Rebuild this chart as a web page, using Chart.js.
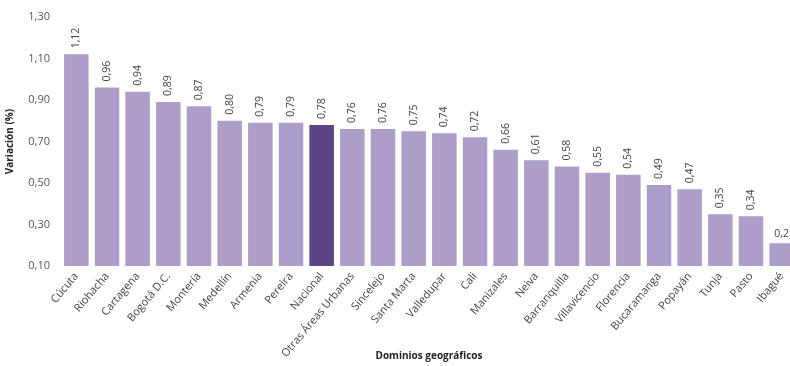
<!DOCTYPE html>
<html>
<head>
<meta charset="utf-8">
<script src="https://cdn.jsdelivr.net/npm/chart.js@4"></script>
<style>
  html, body { margin: 0; padding: 0; background: #fff; overflow: hidden; }
  .wrap { width: 800px; height: 366px; position: relative; }
</style>
</head>
<body>
<div class="wrap"><canvas id="chart"></canvas></div>
<script>
const dominios = ['Cúcuta', 'Riohacha', 'Cartagena', 'Bogotá D.C.', 'Montería', 'Medellín', 'Armenia', 'Pereira', 'Nacional', 'Otras Áreas Urbanas', 'Sincelejo', 'Santa Marta', 'Valledupar', 'Cali', 'Manizales', 'Neiva', 'Barranquilla', 'Villavicencio', 'Florencia', 'Bucaramanga', 'Popayán', 'Tunja', 'Pasto', 'Ibagué'];
const variacion = [1.12, 0.96, 0.94, 0.89, 0.87, 0.80, 0.79, 0.79, 0.78, 0.76, 0.76, 0.75, 0.74, 0.72, 0.66, 0.61, 0.58, 0.55, 0.54, 0.49, 0.47, 0.35, 0.34, 0.21];
const etiquetas = ['1,12', '0,96', '0,94', '0,89', '0,87', '0,80', '0,79', '0,79', '0,78', '0,76', '0,76', '0,75', '0,74', '0,72', '0,66', '0,61', '0,58', '0,55', '0,54', '0,49', '0,47', '0,35', '0,34', '0,2'];
const yTicks = [0.10, 0.30, 0.50, 0.70, 0.90, 1.10, 1.30];

const colorBase = '#ad9ec9';
const colorNacional = '#5b4282';

// value labels above each bar, rotated; the last one is horizontal in the original
const valueLabels = {
  id: 'valueLabels',
  afterDatasetsDraw(chart) {
    const ctx = chart.ctx;
    const meta = chart.getDatasetMeta(0);
    ctx.save();
    ctx.font = '10.5px "Open Sans", sans-serif';
    ctx.fillStyle = '#444';
    meta.data.forEach((bar, i) => {
      const txt = etiquetas[i];
      if (i === meta.data.length - 1) {
        ctx.textAlign = 'center';
        ctx.textBaseline = 'bottom';
        ctx.fillText(txt, bar.x, bar.y - 4);
        return;
      }
      ctx.save();
      ctx.translate(bar.x, bar.y - 6);
      ctx.rotate(-Math.PI / 2);
      ctx.textAlign = 'left';
      ctx.textBaseline = 'middle';
      ctx.fillText(txt, 0, 0);
      ctx.restore();
    });
    ctx.restore();
  }
};

new Chart(document.getElementById('chart'), {
  type: 'bar',
  data: {
    labels: dominios,
    datasets: [{
      data: variacion,
      backgroundColor: dominios.map(d => d === 'Nacional' ? colorNacional : colorBase),
      borderWidth: 0,
      categoryPercentage: 1,
      barPercentage: 0.8
    }]
  },
  options: {
    responsive: true,
    maintainAspectRatio: false,
    animation: false,
    layout: { padding: { top: 17, right: 3, left: 0, bottom: 0 } },
    plugins: { legend: { display: false }, tooltip: { enabled: false } },
    scales: {
      x: {
        grid: { display: false, drawTicks: false },
        border: { display: false },
        ticks: {
          color: '#444',
          font: { family: 'Open Sans', size: 11 },
          minRotation: 50,
          maxRotation: 50,
          autoSkip: false,
          padding: 4
        },
        title: {
          display: true,
          text: 'Dominios geográficos',
          color: '#222',
          font: { family: 'Open Sans', size: 10, weight: 'bold' },
          padding: { top: 0, bottom: 4 }
        },
        afterFit(scale) { scale.height = 100; }
      },
      y: {
        min: 0.1,
        max: 1.3,
        grid: { display: false },
        border: { display: false },
        afterBuildTicks(scale) { scale.ticks = yTicks.map(v => ({ value: v })); },
        ticks: {
          color: '#555',
          font: { family: 'Open Sans', size: 11 },
          callback: v => v.toFixed(2).replace('.', ',')
        },
        title: {
          display: true,
          text: 'Variación (%)',
          color: '#222',
          font: { family: 'Open Sans', size: 10, weight: 'bold' },
          padding: { top: 4, bottom: 0 }
        },
        afterFit(scale) { scale.width = 61; }
      }
    }
  },
  plugins: [valueLabels]
});
</script>
</body>
</html>
